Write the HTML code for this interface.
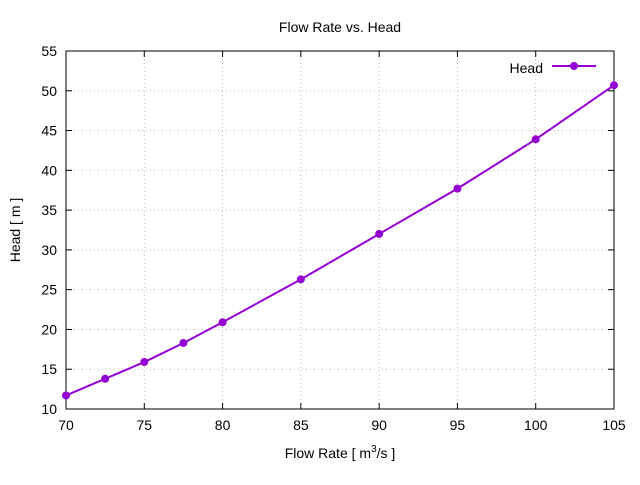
<!DOCTYPE html>
<html><head><meta charset="utf-8"><style>
body{margin:0;background:#fff}
svg text{font-family:"Liberation Sans",sans-serif;font-size:14px;fill:#000}
</style></head><body>
<svg id="chart" width="640" height="480">
<text x="340" y="32" text-anchor="middle">Flow Rate vs. Head</text>
<g id="grid"></g><g id="ticks"></g>
<rect x="66" y="51" width="548" height="358" fill="none" stroke="#000" stroke-width="1"/>
<text x="340" y="458" text-anchor="middle">Flow Rate [ m<tspan dy="-6" font-size="10">3</tspan><tspan dy="6">/s ]</tspan></text>
<text transform="translate(20,230) rotate(-90)" text-anchor="middle">Head [ m ]</text>
<g>
<text x="543" y="73" text-anchor="end">Head</text>
<line x1="552" y1="66" x2="596" y2="66" stroke="#9400d3" stroke-width="2"/>
<circle cx="574" cy="66" r="4" fill="#9400d3"/>
</g>
<g id="series"></g>
</svg>
<script>
const xs=[70,72.5,75,77.5,80,85,90,95,100,105];
const heads=[11.7,13.8,15.9,18.3,20.9,26.3,32.0,37.7,43.9,50.7];
const xTicks=[70,75,80,85,90,95,100,105];
const yTicks=[10,15,20,25,30,35,40,45,50,55];
const X=v=>66+(v-70)/35*548;
const Y=v=>409-(v-10)/45*358;
const NS="http://www.w3.org/2000/svg";
function mk(t,a,p){const e=document.createElementNS(NS,t);for(const k in a)e.setAttribute(k,a[k]);p.appendChild(e);return e;}
const grid=document.getElementById('grid'),ticks=document.getElementById('ticks'),ser=document.getElementById('series');
xTicks.forEach(v=>{
 const g=mk('line',{x1:X(v),x2:X(v),y1:51,y2:409,stroke:'#bbb','stroke-dasharray':'1,3'},grid);
 
 
 mk('line',{x1:X(v),x2:X(v),y1:409,y2:403,stroke:'#000'},ticks);
 mk('line',{x1:X(v),x2:X(v),y1:51,y2:57,stroke:'#000'},ticks);
 const t=mk('text',{x:X(v),y:430,'text-anchor':'middle'},ticks);t.textContent=v;
 
 
});
yTicks.forEach(v=>{
 const g=mk('line',{x1:66,x2:614,y1:Y(v),y2:Y(v),stroke:'#bbb','stroke-dasharray':'1,3'},grid);
 
 
 mk('line',{x1:66,x2:72,y1:Y(v),y2:Y(v),stroke:'#000'},ticks);
 mk('line',{x1:608,x2:614,y1:Y(v),y2:Y(v),stroke:'#000'},ticks);
 const t=mk('text',{x:57,y:Y(v)+5,'text-anchor':'end'},ticks);t.textContent=v;
 
 
});
const line=mk('polyline',{points:xs.map((x,i)=>X(x)+','+Y(heads[i])).join(' '),fill:'none',stroke:'#9400d3','stroke-width':2},ser);


xs.forEach((x,i)=>{
 const c=mk('circle',{cx:X(x),cy:Y(heads[i]),r:4,fill:'#9400d3'},ser);
 
 
});
</script>
</body></html>
